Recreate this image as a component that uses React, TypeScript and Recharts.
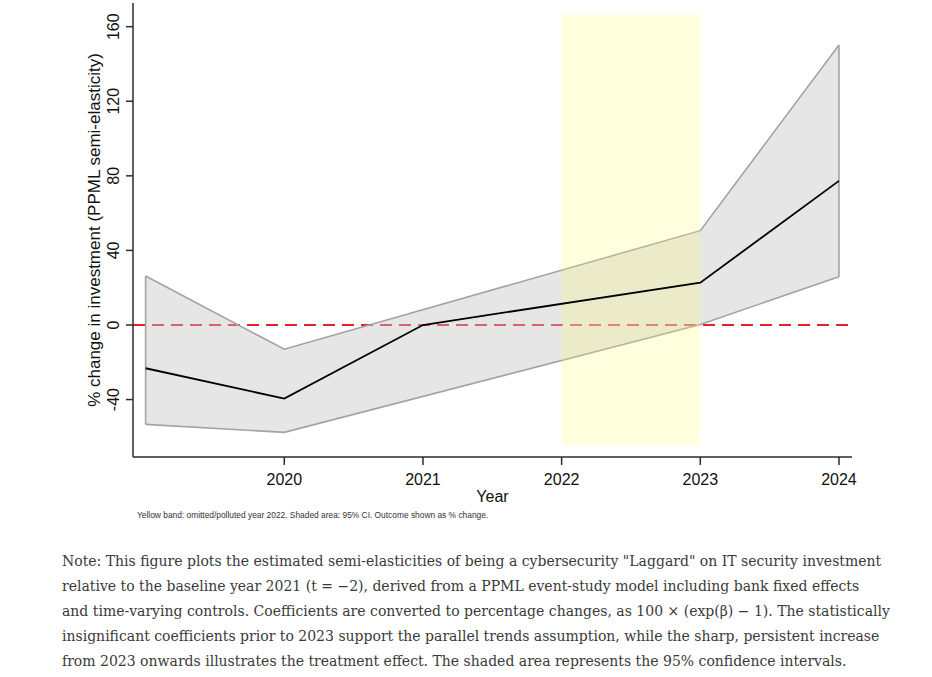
import React from "react";
import {
  ComposedChart,
  Area,
  Line,
  XAxis,
  YAxis,
  ReferenceArea,
  ReferenceLine,
} from "recharts";

/* ── Data ─────────────────────────────────────────────────────── */

// 95% CI bounds (2021 is the baseline, 2022 omitted)
const BAND_YEARS = [2019, 2020, 2023, 2024];
const CI_LOWER = [-53.3, -57.6, 0.3, 25.9];
const CI_UPPER = [26.3, -13.0, 50.6, 150.2];

// point estimates, % change
const EST_YEARS = [2019, 2020, 2021, 2023, 2024];
const ESTIMATES = [-23.2, -39.5, 0, 22.7, 77.3];

const X_TICKS = [2020, 2021, 2022, 2023, 2024];
const Y_TICKS = [-40, 0, 40, 80, 120, 160];

const OMITTED_FROM = 2022;
const OMITTED_TO = 2023;
const OMITTED_LOW = -64.4;
const OMITTED_HIGH = 166.2;

const FOOTNOTE =
  "Yellow band: omitted/polluted year 2022. Shaded area: 95% CI. Outcome shown as % change.";

const NOTE_LINES = [
  'Note: This figure plots the estimated semi-elasticities of being a cybersecurity "Laggard" on IT security investment',
  "relative to the baseline year 2021 (t = \u22122), derived from a PPML event-study model including bank fixed effects",
  "and time-varying controls. Coefficients are converted to percentage changes, as 100 \u00d7 (exp(\u03b2) \u2212 1). The statistically",
  "insignificant coefficients prior to 2023 support the parallel trends assumption, while the sharp, persistent increase",
  "from 2023 onwards illustrates the treatment effect. The shaded area represents the 95% confidence intervals.",
];

/* ── Constants ────────────────────────────────────────────────── */

const X_DOMAIN: [number, number] = [2018.909, 2024.094];
const Y_DOMAIN: [number, number] = [-70.8, 172.7];
const FONT = "'Liberation Sans', Arial, sans-serif";
const AXIS_COLOR = "#2b2b2b";

const bandData = BAND_YEARS.map((year, i) => ({
  year,
  ci: [CI_LOWER[i], CI_UPPER[i]],
}));
const estData = EST_YEARS.map((year, i) => ({ year, est: ESTIMATES[i] }));

const YTick = (props: any) => {
  const { x, y, payload } = props;
  const bx = x - 5;
  return (
    <text
      x={bx}
      y={y}
      transform={`rotate(-90 ${bx} ${y})`}
      textAnchor="middle"
      fontSize={16}
      fontFamily={FONT}
      fill="#111"
    >
      {payload.value}
    </text>
  );
};

/* ── Component ────────────────────────────────────────────────── */

export default function App() {
  const first = bandData[0];
  const last = bandData[bandData.length - 1];

  return (
    <div
      style={{
        position: "absolute",
        left: 0,
        top: 0,
        width: 932,
        height: 677,
        background: "#fff",
        overflow: "hidden",
      }}
    >
      <ComposedChart
        width={932}
        height={530}
        margin={{ top: 3, right: 80, bottom: 0, left: 0 }}
        style={{ position: "absolute", left: 0, top: 0 }}
      >
        <XAxis
          dataKey="year"
          type="number"
          domain={X_DOMAIN}
          allowDataOverflow
          ticks={X_TICKS}
          height={73}
          tickSize={8}
          tickMargin={9}
          stroke={AXIS_COLOR}
          strokeWidth={1.5}
          tick={{ fontSize: 16, fill: "#111", fontFamily: FONT }}
          label={{
            value: "Year",
            position: "insideTop",
            offset: 34,
            style: { fontSize: 16, fill: "#111", fontFamily: FONT },
          }}
        />
        <XAxis
          xAxisId="top"
          orientation="top"
          type="number"
          domain={X_DOMAIN}
          allowDataOverflow
          height={0}
          tick={false}
          tickLine={false}
          stroke={AXIS_COLOR}
          strokeWidth={1.5}
        />
        <YAxis
          type="number"
          domain={Y_DOMAIN}
          allowDataOverflow
          ticks={Y_TICKS}
          width={133}
          tickSize={7}
          tickMargin={2}
          stroke={AXIS_COLOR}
          strokeWidth={1.5}
          tick={<YTick />}
          label={{
            value: "% change in investment (PPML semi-elasticity)",
            angle: -90,
            position: "insideLeft",
            offset: 94,
            style: {
              textAnchor: "middle",
              fontSize: 17,
              fill: "#111",
              fontFamily: FONT,
            },
          }}
        />
        <YAxis
          yAxisId="right"
          orientation="right"
          type="number"
          domain={Y_DOMAIN}
          allowDataOverflow
          width={0}
          tick={false}
          tickLine={false}
          stroke={AXIS_COLOR}
          strokeWidth={1.5}
        />

        <ReferenceLine
          y={0}
          stroke="#e3222b"
          strokeWidth={2.2}
          strokeDasharray="12 7"
          zIndex={50}
        />
        <Area
          data={bandData}
          dataKey="ci"
          type="linear"
          stroke="#a3a3a3"
          strokeWidth={1.6}
          fill="#c4c4c4"
          fillOpacity={0.42}
          isAnimationActive={false}
          connectNulls
          zIndex={100}
        />
        <ReferenceLine
          segment={[
            { x: first.year, y: first.ci[0] },
            { x: first.year, y: first.ci[1] },
          ]}
          stroke="#a3a3a3"
          strokeWidth={1.6}
          zIndex={110}
        />
        <ReferenceLine
          segment={[
            { x: last.year, y: last.ci[0] },
            { x: last.year, y: last.ci[1] },
          ]}
          stroke="#a3a3a3"
          strokeWidth={1.6}
          zIndex={110}
        />
        <ReferenceArea
          x1={OMITTED_FROM}
          x2={OMITTED_TO}
          y1={OMITTED_LOW}
          y2={OMITTED_HIGH}
          fill="#ffff66"
          fillOpacity={0.22}
          stroke="none"
          zIndex={150}
        />
        <Line
          data={estData}
          dataKey="est"
          type="linear"
          stroke="#000"
          strokeWidth={1.8}
          dot={false}
          isAnimationActive={false}
          zIndex={400}
        />
      </ComposedChart>

      <div
        style={{
          position: "absolute",
          left: 137,
          top: 510,
          fontFamily: FONT,
          fontSize: 8.4,
          color: "#333",
          whiteSpace: "nowrap",
        }}
      >
        {FOOTNOTE}
      </div>

      <div
        style={{
          position: "absolute",
          left: 62,
          top: 549,
          fontFamily: "'DejaVu Serif', serif",
          fontSize: 14,
          lineHeight: "25px",
          color: "#3a3a3a",
          whiteSpace: "nowrap",
        }}
      >
        {NOTE_LINES.map((line, i) => (
          <div key={i}>{line}</div>
        ))}
      </div>
    </div>
  );
}
